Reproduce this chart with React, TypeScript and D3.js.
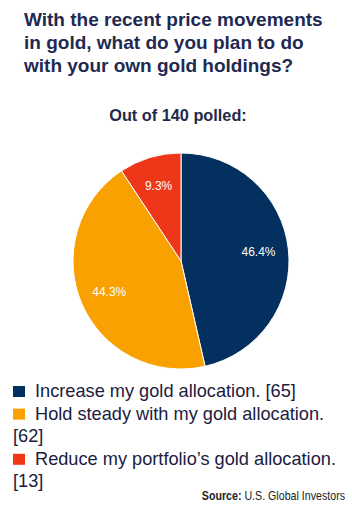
import { useEffect, useRef } from "react";
import * as d3 from "d3";

const titleLines = [
  "With the recent price movements",
  "in gold, what do you plan to do",
  "with your own gold holdings?",
];
const subtitle = "Out of 140 polled:";
const answers = ["Increase", "Hold", "Reduce"];
const counts = [65, 62, 13];
const percents = ["46.4%", "44.3%", "9.3%"];
const legendLines = [
  ["Increase my gold allocation. [65]"],
  ["Hold steady with my gold allocation.", "[62]"],
  ["Reduce my portfolio\u2019s gold allocation.", "[13]"],
];
const colors = ["#03305f", "#f8a100", "#ee3718"];

export default function App() {
  const ref = useRef<SVGSVGElement | null>(null);

  useEffect(() => {
    const svg = d3.select(ref.current);
    svg.selectAll("*").remove();
    const font = "Arial, 'Liberation Sans', sans-serif";

    // title
    svg
      .append("g")
      .selectAll("text")
      .data(titleLines)
      .enter()
      .append("text")
      .attr("x", 24)
      .attr("y", (_, i) => 26 + i * 23)
      .style("font-family", font)
      .style("font-size", "19px")
      .style("font-weight", "bold")
      .attr("fill", "#1e2a52")
      .text((d) => d);

    svg
      .append("text")
      .attr("x", 178)
      .attr("y", 121)
      .attr("text-anchor", "middle")
      .style("font-family", font)
      .style("font-size", "16.3px")
      .style("font-weight", "bold")
      .attr("fill", "#1e2a4a")
      .text(subtitle);

    // pie
    const radius = 108;
    const data = answers.map((a, i) => ({ label: a, value: counts[i], pct: percents[i] }));
    const pie = d3
      .pie<{ label: string; value: number; pct: string }>()
      .value((d) => d.value)
      .sort(null);
    const arc = d3.arc<d3.PieArcDatum<any>>().innerRadius(0).outerRadius(radius);
    const labelArc = d3.arc<d3.PieArcDatum<any>>().innerRadius(78).outerRadius(78);

    const g = svg.append("g").attr("transform", "translate(181,261)");
    const slices = g.selectAll(".slice").data(pie(data)).enter().append("g");
    slices
      .append("path")
      .attr("d", arc as any)
      .attr("fill", (_, i) => colors[i])
      .attr("stroke", "#ffffff")
      .attr("stroke-width", 1);
    slices
      .append("text")
      .attr("transform", (d) => {
        const [x, y] = labelArc.centroid(d);
        return `translate(${x},${y})`;
      })
      .attr("text-anchor", "middle")
      .attr("dy", "0.35em")
      .style("font-family", font)
      .style("font-size", "12px")
      .attr("fill", "#ffffff")
      .text((d) => d.data.pct);

    // legend
    const legend = svg.append("g");
    let line = 0;
    legendLines.forEach((lines, i) => {
      const y0 = 397 + line * 22.6;
      legend
        .append("rect")
        .attr("x", 13)
        .attr("y", y0 - 11)
        .attr("width", 12)
        .attr("height", 11)
        .attr("fill", colors[i]);
      lines.forEach((t, j) => {
        legend
          .append("text")
          .attr("x", j === 0 ? 35 : 13)
          .attr("y", 397 + (line + j) * 22.6)
          .style("font-family", font)
          .style("font-size", "18.2px")
          .attr("fill", "#1b2040")
          .text(t);
      });
      line += lines.length;
    });

    // source, squeezed sideways to look like the narrow face
    const src = svg
      .append("text")
      .attr("transform", "translate(345,500) scale(0.82,1)")
      .attr("text-anchor", "end")
      .style("font-family", font)
      .style("font-size", "13px")
      .attr("fill", "#222222");
    src.append("tspan").style("font-weight", "bold").text("Source:");
    src.append("tspan").text(" U.S. Global Investors");
  }, []);

  return (
    <svg
      ref={ref}
      width={352}
      height={516}
      style={{ position: "absolute", left: 0, top: 0, background: "#ffffff" }}
    />
  );
}
